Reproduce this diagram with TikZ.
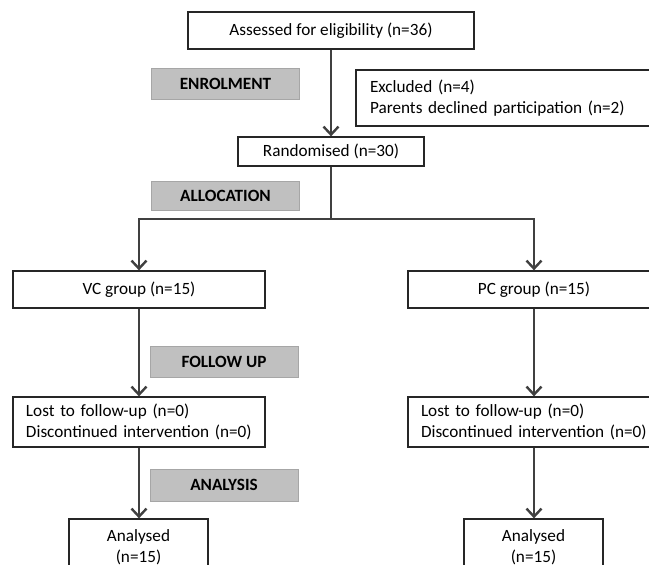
\documentclass[tikz,border=0pt]{standalone}
\usepackage{fontspec}
\setmainfont{Carlito}
\usetikzlibrary{arrows.meta}
\definecolor{linegray}{HTML}{404040}
\definecolor{labfill}{HTML}{C0C0C0}
\definecolor{labdraw}{HTML}{A6A6A6}
\begin{document}
\begin{tikzpicture}[x=1pt,y=-1pt,
  every node/.style={font=\fontsize{17.2}{21}\selectfont},
  box/.style={draw=black!85, line width=1.3pt, fill=white, inner sep=0pt, align=center},
  lbox/.style={draw=black!85, line width=1.3pt, fill=white, inner sep=0pt, align=left, text width=#1},
  stage/.style={draw=labdraw, line width=1pt, fill=labfill, inner sep=0pt, font=\fontsize{17.2}{20}\selectfont\bfseries, minimum width=148pt, minimum height=31pt},
  flow/.style={draw=linegray, line width=2.6pt},
  arr/.style={flow, -{Straight Barb[length=8pt,width=15pt,line width=2.4pt]}}
]
\useasboundingbox (0,0) rectangle (649,565);
\clip (0,0) rectangle (649,565);
\fill[white] (0,0) rectangle (649,565);

% stage labels
\node[stage] (enrol) at (225.5,83.5) {ENROLMENT};
\node[stage, minimum height=29pt] (alloc) at (225.5,195.5) {ALLOCATION};
\node[stage] (follow) at (224,361.5) {FOLLOW UP};
\node[stage, minimum height=32pt] (analysis) at (224,485) {ANALYSIS};

% main boxes
\node[box, minimum width=286pt, minimum height=37pt] (assess) at (331,30.5) {Assessed for eligibility (n=36)};
\node[box, minimum width=186pt, minimum height=29pt] (rand) at (331,151.5) {Randomised (n=30)};
\node[box, minimum width=304pt, minimum height=56pt, align=left, text width=276pt] (excl) at (508,98) {Excluded (n=4)\\Parents declined participation (n=2)};

\node[box, minimum width=252pt, minimum height=37pt] (vc) at (139,289.5) {VC group (n=15)};
\node[box, minimum width=252pt, minimum height=37pt] (pc) at (534,289.5) {PC group (n=15)};

\node[lbox=226pt, minimum width=252pt, minimum height=50pt] (lostl) at (139,422) {Lost to follow-up (n=0)\\Discontinued intervention (n=0)};
\node[lbox=226pt, minimum width=252pt, minimum height=50pt] (lostr) at (534,422) {Lost to follow-up (n=0)\\Discontinued intervention (n=0)};

\node[box, minimum width=139pt, minimum height=56pt] (anal) at (138.5,547) {Analysed\\(n=15)};
\node[box, minimum width=139pt, minimum height=56pt] (anar) at (533.5,547) {Analysed\\(n=15)};

% connectors
\coordinate (split) at (331,219);
\draw[arr] (assess.south) -- (rand.north);
\draw[flow] (rand.south) -- (split);
\draw[arr] (split) -| (vc.north);
\draw[arr] (split) -| (pc.north);
\draw[arr] (vc.south) -- (lostl.north);
\draw[arr] (pc.south) -- (lostr.north);
\draw[arr] (lostl.south) -- (anal.north -| lostl.south);
\draw[arr] (lostr.south) -- (anar.north -| lostr.south);
\end{tikzpicture}
\end{document}
